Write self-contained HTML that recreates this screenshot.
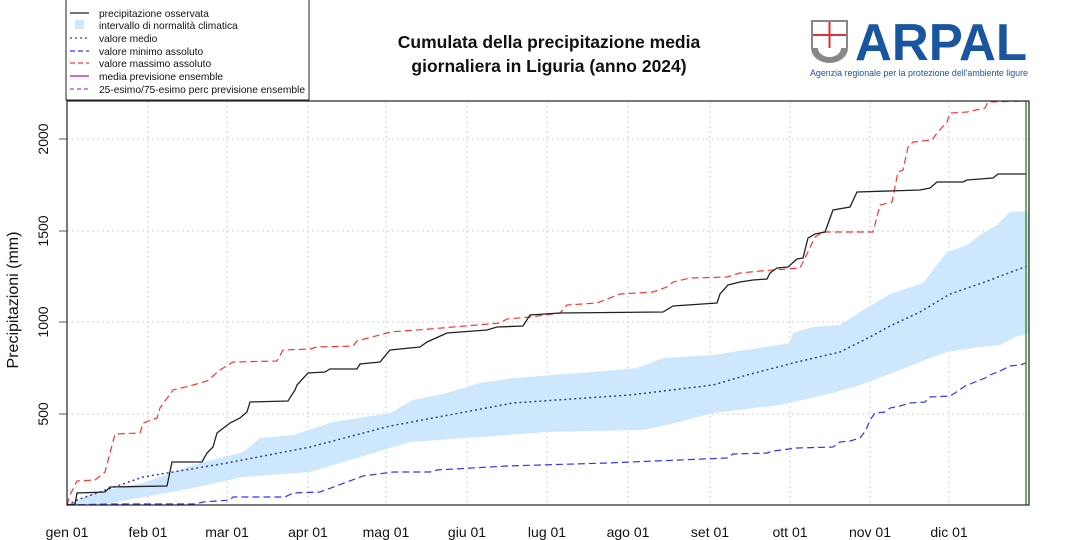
<!DOCTYPE html>
<html><head><meta charset="utf-8"><style>
html,body{margin:0;padding:0;background:#fff;}
svg{display:block;font-family:"Liberation Sans",Arial,sans-serif;}
</style></head><body>
<svg width="1080" height="540" viewBox="0 0 1080 540" xmlns="http://www.w3.org/2000/svg">
<rect width="1080" height="540" fill="#fff"/>
<g stroke="#cfcfcf" stroke-width="1" stroke-dasharray="2,3">
<line x1="148" y1="101" x2="148" y2="505"/><line x1="227" y1="101" x2="227" y2="505"/>
<line x1="308" y1="101" x2="308" y2="505"/><line x1="386" y1="101" x2="386" y2="505"/>
<line x1="467" y1="101" x2="467" y2="505"/><line x1="547" y1="101" x2="547" y2="505"/>
<line x1="628" y1="101" x2="628" y2="505"/><line x1="710" y1="101" x2="710" y2="505"/>
<line x1="790" y1="101" x2="790" y2="505"/><line x1="870" y1="101" x2="870" y2="505"/>
<line x1="949" y1="101" x2="949" y2="505"/>
<line x1="67" y1="414" x2="1029" y2="414"/><line x1="67" y1="322" x2="1029" y2="322"/>
<line x1="67" y1="231" x2="1029" y2="231"/><line x1="67" y1="139" x2="1029" y2="139"/>
</g>
<polygon fill="#cde8fc" points="67,505 93,493 143,483 193,465 243,452 260,438 293,435 333,422 390,413 413,400 447,393 480,383 513,378 580,373 637,368 663,358 713,355 790,343 793,333 813,327 840,325 860,312 890,294 923,283 947,252 967,245 983,233 997,225 1010,212 1029,211 1029,333 1015,337 1000,345 980,347 947,352 930,358 900,370 860,385 833,393 780,405 713,413 667,425 643,430 547,432 480,437 410,442 390,448 310,472 243,477 193,488 143,497 100,505 67,505"/>
<polyline fill="none" stroke="#3a3f8a" stroke-width="1.5" stroke-dasharray="2,3" points="67,505 77,500 143,477 227,463 310,447 390,426 513,403 630,395 713,385 747,375 797,362 840,352 868,338 890,326 920,312 950,294 985,282 1027,266"/>
<polyline fill="none" stroke="#3333ff" stroke-width="1.2" stroke-dasharray="7,4" points="67,505 110,504 195,504 203,502 230,500 233,497 285,497 293,493 320,492 347,482 363,476 393,472 430,472 437,470 507,466 607,463 727,458 733,454 767,453 773,451 797,448 833,447 840,442 850,441 860,438 866,430 870,420 875,413 885,412 890,408 900,406 910,403 925,402 930,397 950,396 955,393 965,386 975,382 985,378 990,375 1000,371 1010,366 1020,365 1026,363"/>
<polyline fill="none" stroke="#ff3333" stroke-width="1.2" stroke-dasharray="7,4" points="67,505 70,495 77,481 95,480 105,472 115,434 140,433 143,423 157,418 160,408 173,390 193,385 207,381 220,370 233,362 277,361 283,350 310,349 317,347 353,346 357,341 387,333 390,332 430,329 500,323 507,319 530,317 560,313 567,305 597,303 620,294 653,292 667,287 673,282 690,278 727,277 740,273 760,271 800,268 805,258 815,237 823,232 873,232 880,205 892,202 898,172 903,170 908,147 913,142 932,140 937,133 947,122 950,113 967,112 985,108 988,102 1025,101"/>
<polyline fill="none" stroke="#222" stroke-width="1.3" points="67,505 75,504 77,493 105,492 110,487 167,486 172,462 202,462 207,453 213,447 217,433 230,423 240,418 247,412 250,402 288,401 295,390 297,385 308,373 325,372 330,369 357,369 360,364 380,362 390,350 420,347 427,342 447,333 487,330 497,327 523,326 530,315 560,313 663,312 673,306 717,303 720,294 728,285 740,282 753,280 767,279 770,273 777,268 788,267 797,259 803,258 808,238 815,234 825,232 833,210 850,207 857,192 920,190 930,188 937,182 963,182 967,180 993,178 998,174 1027,174"/>
<line x1="1026" y1="101" x2="1026" y2="505" stroke="#3a9a3a" stroke-width="1.5"/>
<rect x="67" y="101" width="962" height="404" fill="none" stroke="#222" stroke-width="1.2"/>
<g stroke="#555" stroke-width="1">
<line x1="59" y1="414" x2="67" y2="414"/><line x1="59" y1="322" x2="67" y2="322"/>
<line x1="59" y1="231" x2="67" y2="231"/><line x1="59" y1="139" x2="67" y2="139"/>
</g>
<g font-size="14" fill="#111" text-anchor="middle">
<text transform="translate(48,414) rotate(-90)">500</text>
<text transform="translate(48,322) rotate(-90)">1000</text>
<text transform="translate(48,231) rotate(-90)">1500</text>
<text transform="translate(48,139) rotate(-90)">2000</text>
<text transform="translate(18,300) rotate(-90)" font-size="16">Precipitazioni (mm)</text>
<text x="67" y="537">gen 01</text><text x="148" y="537">feb 01</text><text x="227" y="537">mar 01</text>
<text x="308" y="537">apr 01</text><text x="386" y="537">mag 01</text><text x="467" y="537">giu 01</text>
<text x="547" y="537">lug 01</text><text x="628" y="537">ago 01</text><text x="710" y="537">set 01</text>
<text x="790" y="537">ott 01</text><text x="870" y="537">nov 01</text><text x="949" y="537">dic 01</text>
</g>
<g font-size="17.5" font-weight="bold" fill="#111" text-anchor="middle">
<text x="549" y="48">Cumulata della precipitazione media</text>
<text x="549" y="72">giornaliera in Liguria (anno 2024)</text>
</g>
<rect x="66" y="-1" width="243" height="101" fill="#fff" stroke="#222" stroke-width="1"/>
<g font-size="10.2" fill="#111">
<line x1="70" y1="13" x2="89" y2="13" stroke="#222" stroke-width="1.2"/><text x="99" y="17">precipitazione osservata</text>
<rect x="75" y="20" width="9" height="9" fill="#cde8fc"/><text x="99" y="29">intervallo di normalità climatica</text>
<line x1="70" y1="38" x2="89" y2="38" stroke="#3a3f8a" stroke-width="1.2" stroke-dasharray="2,3"/><text x="99" y="42">valore medio</text>
<line x1="70" y1="51" x2="89" y2="51" stroke="#3333ff" stroke-width="1.2" stroke-dasharray="5,3"/><text x="99" y="55">valore minimo assoluto</text>
<line x1="70" y1="63" x2="89" y2="63" stroke="#ff3333" stroke-width="1.2" stroke-dasharray="5,3"/><text x="99" y="67">valore massimo assoluto</text>
<line x1="70" y1="76" x2="89" y2="76" stroke="#b040e0" stroke-width="1.5"/><text x="99" y="80">media previsione ensemble</text>
<line x1="70" y1="89" x2="89" y2="89" stroke="#b040e0" stroke-width="1.2" stroke-dasharray="4,3"/><text x="99" y="93" textLength="206" lengthAdjust="spacingAndGlyphs">25-esimo/75-esimo perc previsione ensemble</text>
</g>
<g>
<path d="M811,20 h37 v28 a18.5,15 0 0 1 -37,0 z" fill="#888"/>
<rect x="813" y="22" width="33" height="26" fill="#fff"/>
<path d="M818,48 a11.5,9 0 0 0 23,0 z" fill="#fff"/>
<line x1="829.5" y1="22" x2="829.5" y2="48" stroke="#e03030" stroke-width="2"/>
<line x1="813" y1="35" x2="846" y2="35" stroke="#e03030" stroke-width="2"/>
<text x="855" y="60" font-size="52" font-weight="bold" fill="#1a56a0" textLength="172" lengthAdjust="spacingAndGlyphs">ARPAL</text>
<text x="810" y="76" font-size="9.5" fill="#1a56a0" textLength="218" lengthAdjust="spacingAndGlyphs">Agenzia regionale per la protezione dell'ambiente ligure</text>
</g>
</svg>
</body></html>
